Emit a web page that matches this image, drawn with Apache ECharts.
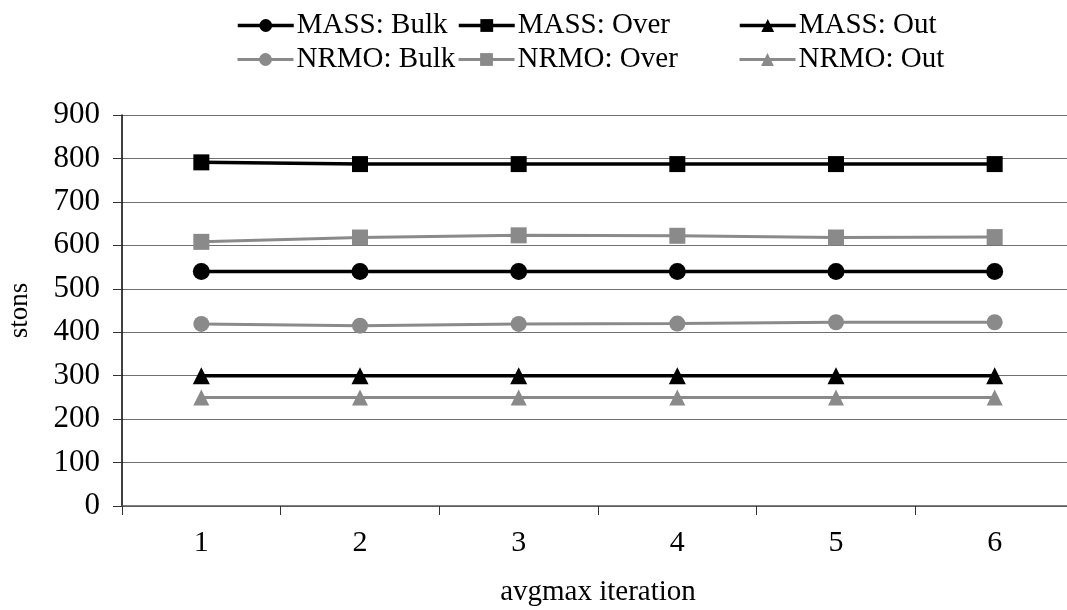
<!DOCTYPE html>
<html>
<head>
<meta charset="utf-8">
<script src="https://cdn.jsdelivr.net/npm/echarts@6/dist/echarts.min.js"></script>
<style>
  html, body { margin: 0; padding: 0; background: #fff; }
  #chart { width: 1067px; height: 610px; }
</style>
</head>
<body>
<div id="chart"></div>
<script>
// Iterations along the x axis
var categories = ['1', '2', '3', '4', '5', '6'];

// Tonnage per iteration (stons)
var massBulk = [540, 540, 540, 540, 540, 540];
var massOver = [791, 787, 787, 787, 787, 787];
var massOut  = [300, 300, 300, 300, 300, 300];
var nrmoBulk = [419, 415, 419, 420, 423, 423];
var nrmoOver = [608, 618, 623, 622, 618, 619];
var nrmoOut  = [250, 250, 250, 250, 250, 250];

var yTicks = { min: 0, max: 900, interval: 100 };

var FONT = '"Liberation Serif", "Times New Roman", serif';
var BLACK = '#000000';
var GREY = '#8a8a8a';

function seriesOf(name, data, symbol, color, width, size) {
  return {
    name: name,
    type: 'line',
    data: data,
    symbol: symbol,
    symbolSize: size,
    showAllSymbol: true,
    lineStyle: { color: color, width: width },
    itemStyle: { color: color, borderColor: color, borderWidth: 0 },
    emphasis: { disabled: true },
    z: 3
  };
}

var series = [
  seriesOf('NRMO: Out',  nrmoOut,  'triangle', GREY, 3, 16),
  seriesOf('NRMO: Bulk', nrmoBulk, 'circle',   GREY, 3, 16),
  seriesOf('NRMO: Over', nrmoOver, 'rect',     GREY, 3, 16),
  seriesOf('MASS: Out',  massOut,  'triangle', BLACK, 3.5, 17),
  seriesOf('MASS: Bulk', massBulk, 'circle',   BLACK, 3.5, 17),
  seriesOf('MASS: Over', massOver, 'rect',     BLACK, 3.5, 16)
];

function legendItem(name, left, top, width) {
  return {
    data: [name],
    left: left,
    top: top,
    orient: 'horizontal',
    itemWidth: 56,
    itemHeight: 16,
    itemGap: 0,
    padding: 0,
    selectedMode: false,
    lineStyle: { width: width },
    textStyle: { fontFamily: FONT, fontSize: 29, color: BLACK, padding: [0, 0, 0, -2] }
  };
}

var legends = [
  legendItem('MASS: Bulk', 236, 11, 3.5),
  legendItem('MASS: Over', 457, 11, 3.5),
  legendItem('MASS: Out',  738, 11, 3.5),
  legendItem('NRMO: Bulk', 236, 45, 3),
  legendItem('NRMO: Over', 457, 45, 3),
  legendItem('NRMO: Out',  738, 45, 3)
];

var chart = echarts.init(document.getElementById('chart'), null, { renderer: 'canvas' });
chart.setOption({
  animation: false,
  backgroundColor: '#ffffff',
  legend: legends,
  grid: { left: 122, top: 115, width: 952, height: 391, containLabel: false, outerBoundsMode: 'none' },
  xAxis: {
    type: 'category',
    data: categories,
    boundaryGap: true,
    name: 'avgmax iteration',
    nameLocation: 'middle',
    nameGap: 72,
    nameTextStyle: { fontFamily: FONT, fontSize: 29, color: BLACK },
    axisLine: { lineStyle: { color: '#555555', width: 1.5 } },
    axisTick: { show: true, length: 9, inside: false, lineStyle: { color: '#333333' } },
    axisLabel: { fontFamily: FONT, fontSize: 30, color: BLACK, margin: 22 },
    splitLine: { show: false }
  },
  yAxis: {
    type: 'value',
    min: yTicks.min,
    max: yTicks.max,
    interval: yTicks.interval,
    name: 'stons',
    nameLocation: 'middle',
    nameRotate: 90,
    nameGap: 89,
    nameTextStyle: { fontFamily: FONT, fontSize: 27, color: BLACK },
    axisLine: { show: true, lineStyle: { color: BLACK, width: 1.5 } },
    axisTick: { show: true, length: 9, inside: false, lineStyle: { color: '#333333' } },
    axisLabel: { fontFamily: FONT, fontSize: 31, color: BLACK, margin: 22 },
    splitLine: { show: true, lineStyle: { color: '#707070', width: 1 } }
  },
  series: series
});
</script>
</body>
</html>
